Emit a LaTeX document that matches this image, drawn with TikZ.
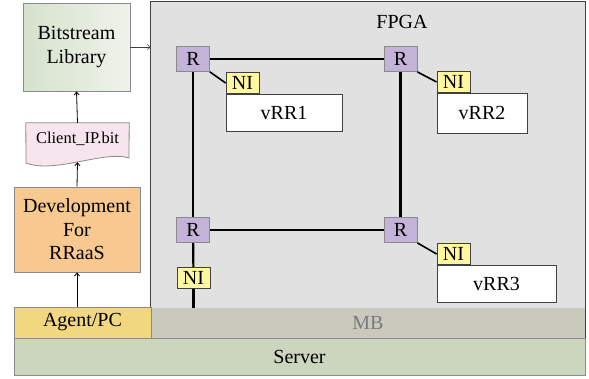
\documentclass[tikz,border=0pt]{standalone}
\usepackage{fontspec}
\setmainfont{Liberation Serif}
\usetikzlibrary{arrows.meta}
\definecolor{fpgafill}{HTML}{E1E1E1}
\definecolor{fpgaline}{HTML}{404040}
\definecolor{mbfill}{HTML}{C9C9BE}
\definecolor{serverfill}{HTML}{CCD5BE}
\definecolor{agentfill}{HTML}{F0D780}
\definecolor{devfill}{HTML}{F8C891}
\definecolor{clientfill}{HTML}{F6E5EC}
\definecolor{libleft}{HTML}{D6E2CC}
\definecolor{libright}{HTML}{EFF3EB}
\definecolor{rfill}{HTML}{C3B3D9}
\definecolor{nifill}{HTML}{FFF8A0}
\definecolor{boxline}{HTML}{8A8A8A}
\definecolor{mbtext}{HTML}{7A7A7A}
\tikzset{
  txt/.style={font=\fontsize{20}{23.5}\selectfont, inner sep=0pt, align=center},
  leftbox/.style={txt, draw=boxline, line width=0.8pt, minimum width=#1},
  router/.style={txt, draw=boxline, line width=0.8pt, fill=rfill, minimum width=33pt, minimum height=25pt},
  nibox/.style={txt, draw=fpgaline, line width=0.8pt, fill=nifill, minimum width=33pt, minimum height=21pt},
  vrr/.style={txt, draw=fpgaline, line width=0.8pt, fill=white, minimum height=37pt},
  link/.style={line width=2.2pt, black},
  up/.style={-{Straight Barb[length=3pt,width=5pt]}, line width=0.8pt, black},
}
\begin{document}
\begin{tikzpicture}[x=1pt,y=-1pt]
\useasboundingbox (0,0) rectangle (589,378);
% FPGA area
\node[txt, fill=fpgafill, minimum width=434pt, minimum height=336pt] (fpga) at (368,170) {};
\node[txt, fill=mbfill, text=mbtext, minimum width=434pt, minimum height=30pt] (mb) at (368,323) {MB};
\draw[fpgaline, line width=1pt] (fpga.south west) rectangle (fpga.north east);
\node[txt] (fpgalabel) at (402,22) {FPGA};
% server and agent
\node[leftbox=571pt, fill=serverfill, minimum height=37pt] (server) at (299.5,356.5) {Server};
\node[leftbox=137pt, fill=agentfill, minimum height=31pt] (agent) at (82.5,322.5) {Agent/PC};
% left column
\node[leftbox=126pt, fill=devfill, minimum height=85pt] (dev) at (77,229.5) {Development\\For\\RRaaS};
\node[txt, font=\fontsize{16.5}{18}\selectfont, minimum width=103pt, minimum height=39pt] (client) at (77.5,142.5) {};
\filldraw[fill=clientfill, draw=boxline, line width=0.8pt]
  (client.north west) -- (client.north east) -- (129,158)
  .. controls (105,150) and (55,174) .. (26,163) -- cycle;
\node[txt, font=\fontsize{16.5}{18}\selectfont] (clienttext) at (77.5,139) {Client\_IP.bit};
\node[leftbox=107pt, left color=libleft, right color=libright, minimum height=88pt] (lib) at (76.5,47) {Bitstream\\Library};
% arrows on the left
\draw[up] (agent.north -| dev.south) -- (dev.south);
\draw[up] (dev.north) -- (client.south);
\draw[up] (client.north) -- (lib.south);
\draw[-{Straight Barb[length=3pt,width=5pt]}, line width=0.6pt, fpgaline] (lib.east) -- (lib.east -| fpga.west);
% routers
\node[router] (r1) at (193,59) {R};
\node[router] (r2) at (400.5,59) {R};
\node[router] (r3) at (193,230) {R};
\node[router] (r4) at (400.5,230) {R};
% NIs
\node[nibox] (ni1) at (242.5,83) {NI};
\node[nibox] (ni2) at (453.5,82) {NI};
\node[nibox] (ni3) at (453.5,254) {NI};
\node[nibox] (ni4) at (193.5,278) {NI};
% vRRs
\node[vrr, minimum width=116pt, anchor=north west] (vrr1) at (ni1.south west) {vRR1};
\node[vrr, minimum width=90pt, minimum height=40pt, anchor=north west] (vrr2) at (ni2.south west) {vRR2};
\node[vrr, minimum width=119pt, anchor=north west] (vrr3) at (ni3.south west) {vRR3};
% links
\draw[link] (r1) -- (r2);
\draw[link] (r3) -- (r4);
\draw[link] (r1) -- (r3);
\draw[link] (r2) -- (r4);
\draw[link] (r3) -- (ni4);
\coordinate (mbtop) at (ni4.south |- mb.north);
\draw[link] (ni4) -- (mbtop);
\draw[line width=1.6pt] (r1.south east) -- (ni1.west);
\draw[line width=1.6pt] (r2.south east) -- (ni2.west);
\draw[line width=1.6pt] (r4.south east) -- (ni3.west);
\end{tikzpicture}
\end{document}
